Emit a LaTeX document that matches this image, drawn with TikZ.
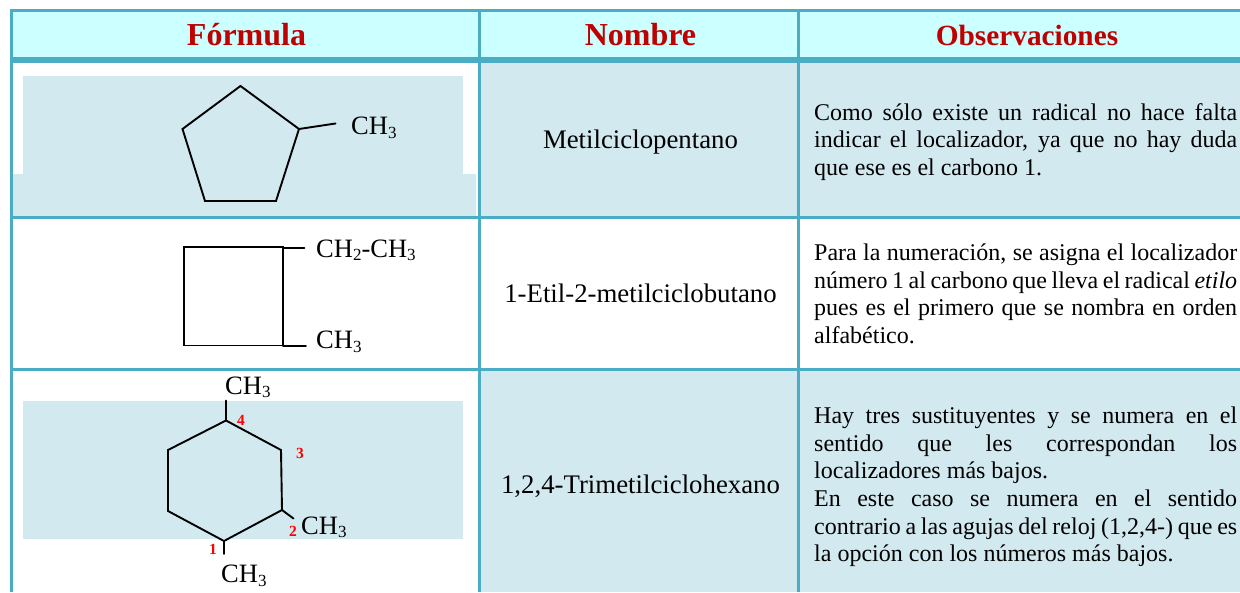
\documentclass[tikz,border=0pt]{standalone}
\usepackage{fontspec}
\setmainfont{Liberation Serif}
\definecolor{rule}{HTML}{4BACC6}
\definecolor{cell}{HTML}{D2E9F0}
\definecolor{head}{HTML}{CCFFFF}
\definecolor{headtext}{HTML}{C00000}
\newcommand{\dn}[1]{\raisebox{-3.5pt}{\fontsize{17}{17}\selectfont #1}}
\newcommand{\jl}[1]{\makebox[423pt][s]{#1}}
\tikzset{
  grid/.style={line width=3pt,draw=rule},
  gridb/.style={line width=6pt,draw=rule},
  bond/.style={line width=1.9pt,draw=black,line join=miter,line cap=round},
  headlabel/.style={font=\fontsize{32}{34}\selectfont\bfseries,text=headtext,inner sep=0pt,anchor=base},
  headsmall/.style={font=\fontsize{29.3}{34}\selectfont\bfseries,text=headtext,inner sep=0pt,anchor=base},
  namelabel/.style={font=\fontsize{26.8}{30}\selectfont,inner sep=0pt,anchor=base},
  chem/.style={font=\fontsize{26.5}{30}\selectfont,inner sep=0pt,anchor=base west},
  loc/.style={font=\fontsize{15.5}{16}\selectfont\bfseries,text=red,inner sep=0pt},
  obs/.style={font=\fontsize{24}{27.6}\selectfont,inner sep=0pt,anchor=west,align=flush left,text width=423pt}
}
\begin{document}
\begin{tikzpicture}[x=1pt,y=-1pt]
\useasboundingbox (0,0) rectangle (1240,592);
% backgrounds
\fill[head] (12,11) rectangle (1240,60);
\fill[cell] (480,60) rectangle (1240,217);
\fill[cell] (480,370) rectangle (1240,592);
\fill[cell] (23,76) rectangle (463,175);
\fill[cell] (12,174) rectangle (476,217);
\fill[cell] (23,401) rectangle (463,539);
% grid
\draw[grid] (10,10.5) -- (1240,10.5);
\draw[gridb] (10,60) -- (1240,60);
\draw[grid] (10,217.5) -- (1240,217.5);
\draw[grid] (10,369.5) -- (1240,369.5);
\draw[grid] (11.5,9) -- (11.5,592);
\draw[grid] (479.5,9) -- (479.5,592);
\draw[grid] (798.5,9) -- (798.5,592);
% headers
\node[headlabel] (h1) at (246.5,45) {Fórmula};
\node[headlabel] (h2) at (640.5,45) {Nombre};
\node[headsmall] (h3) at (1027,45) {Observaciones};
% names
\node[namelabel] (n1) at (640.5,148) {Metilciclopentano};
\node[namelabel] (n2) at (640.5,302) {1-Etil-2-metilciclobutano};
\node[namelabel] (n3) at (640.5,493) {1,2,4-Trimetilciclohexano};
% observations
\node[obs] (o1) at (814,142) {\jl{Como sólo existe un radical no hace falta}\\\jl{indicar el localizador, ya que no hay duda}\\que ese es el carbono 1.};
\node[obs] (o2) at (814,294) {\jl{Para la numeración, se asigna el localizador}\\\jl{número 1 al carbono que lleva el radical \textit{etilo}}\\\jl{pues es el primero que se nombra en orden}\\alfabético.};
\node[obs] (o3) at (814,487) {\jl{Hay tres sustituyentes y se numera en el}\\\jl{sentido que les correspondan los}\\localizadores más bajos.\\\jl{En este caso se numera en el sentido}\\\jl{contrario a las agujas del reloj (1,2,4-) que es}\\la opción con los números más bajos.};
% pentagon
\coordinate (pa) at (240.5,86);
\coordinate (pb) at (299,129);
\coordinate (pc) at (276,201);
\coordinate (pd) at (205,201);
\coordinate (pe) at (182.5,129);
\coordinate (pf) at (335.5,123.5);
\draw[bond] (pa) -- (pb) -- (pc) -- (pd) -- (pe) -- cycle;
\draw[bond] (pb) -- (pf);
\node[chem] (c1) at (351,134.5) {CH\dn{3}};
% square
\coordinate (sa) at (184,247.3);
\coordinate (sb) at (282.7,247.3);
\coordinate (sc) at (282.7,345.5);
\coordinate (sd) at (184,345.5);
\coordinate (sg) at (283,248.3);
\coordinate (sh) at (283,346);
\coordinate (se) at (304.5,248.3);
\coordinate (sf) at (306,346);
\draw[bond] (sa) -- (sb) -- (sc) -- (sd) -- cycle;
\draw[bond] (sg) -- (se);
\draw[bond] (sh) -- (sf);
\node[chem] (c2) at (316,257.3) {CH\dn{2}-CH\dn{3}};
\node[chem] (c3) at (316,348.5) {CH\dn{3}};
% hexagon
\coordinate (ha) at (226,420.5);
\coordinate (hb) at (281,450);
\coordinate (hc) at (282,510);
\coordinate (hd) at (224,541);
\coordinate (he) at (168,511);
\coordinate (hf) at (168,450);
\coordinate (hg) at (226,400.5);
\coordinate (hh) at (293.5,518.5);
\coordinate (hi) at (224,554);
\draw[bond] (ha) -- (hb) -- (hc) -- (hd) -- (he) -- (hf) -- cycle;
\draw[bond] (ha) -- (hg);
\draw[bond] (hc) -- (hh);
\draw[bond] (hd) -- (hi);
\node[chem] (c4) at (225,394) {CH\dn{3}};
\node[chem] (c5) at (301,534) {CH\dn{3}};
\node[chem] (c6) at (221,582.5) {CH\dn{3}};
\node[loc] (l4) at (241,420.5) {4};
\node[loc] (l3) at (300,453) {3};
\node[loc] (l2) at (293,531) {2};
\node[loc] (l1) at (213,549) {1};
\end{tikzpicture}
\end{document}
